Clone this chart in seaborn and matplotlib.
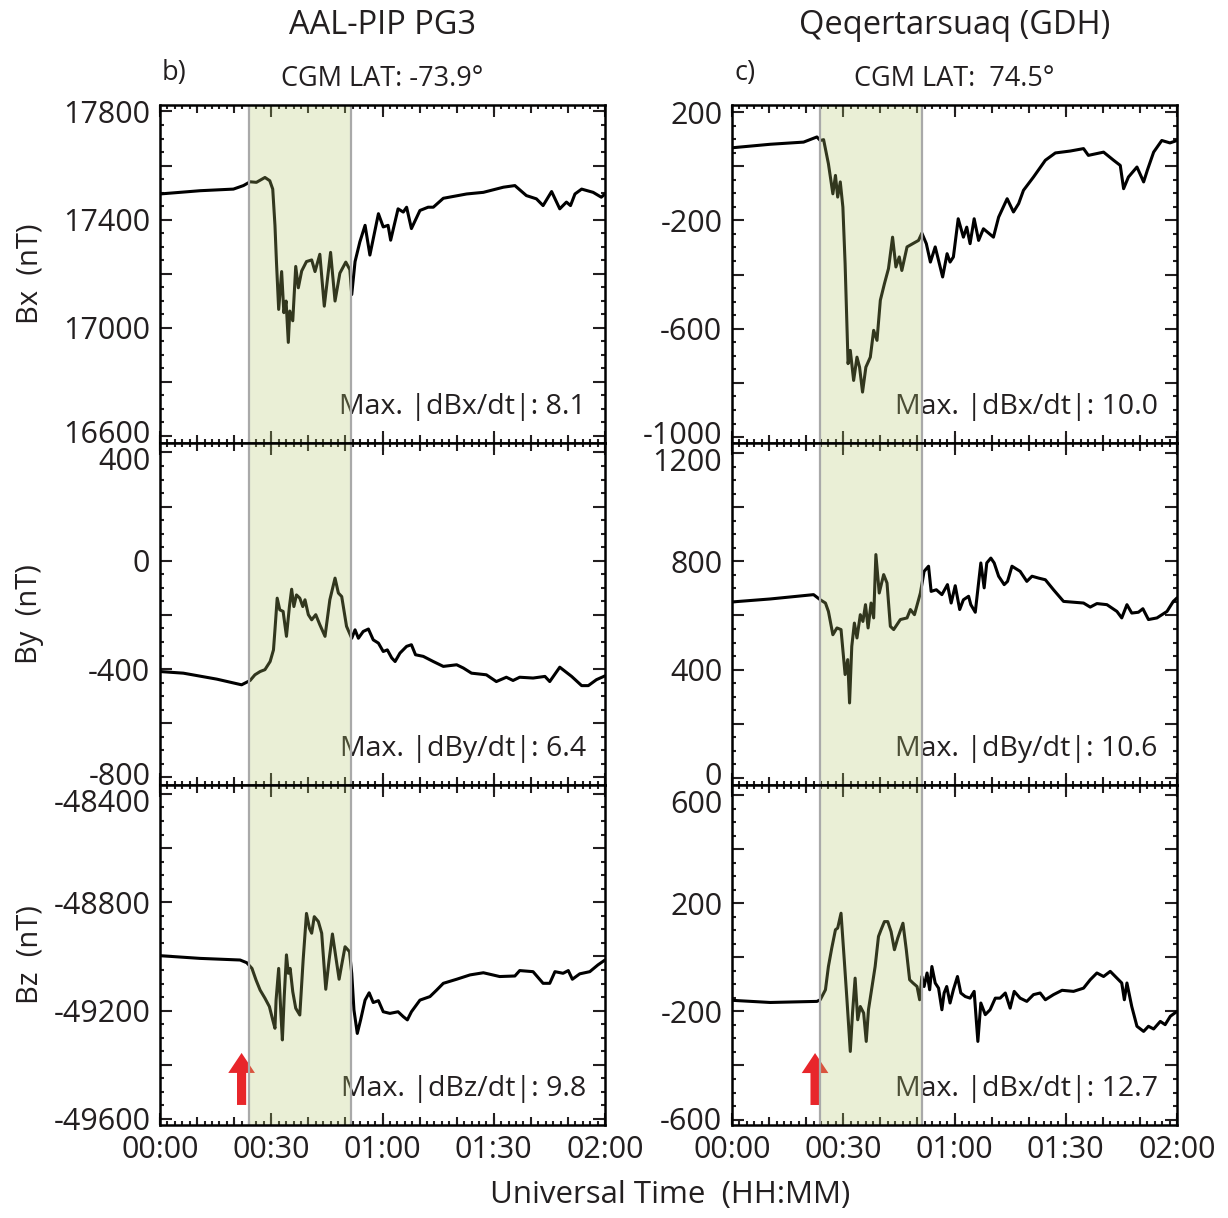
import numpy as np
import pandas as pd
import matplotlib
matplotlib.use("Agg")
import matplotlib.pyplot as plt
import matplotlib.transforms as mtransforms
import seaborn as sns
from matplotlib.ticker import MultipleLocator, NullLocator

# ---------------- data (minutes after 00:00 UT, nT) ----------------
t_bx_pg3 = [0, 10.8, 19.8, 22.5, 24.3, 26, 28.3, 29.6, 30.4, 31, 31.4, 32, 32.8, 33.4, 34, 34.6, 35, 35.8,
            36.6, 37.3, 38.2, 39.5, 40.9, 41.8, 43.1, 44.3, 46, 47.2, 48.5, 50.1, 51.2, 51.7, 52.6, 53.9,
            55.3, 56.6, 58.9, 60.2, 61.5, 62.2, 64.2, 65.6, 66.5, 67.8, 70.1, 72.3, 73.7, 76.4, 82.7, 87.2,
            92.6, 95.7, 98.8, 101.5, 103.3, 105.6, 107.8, 109.6, 110.7, 111.9, 113.7, 116.8, 119, 120]
bx_pg3 = [17495, 17507, 17513, 17526, 17540, 17538, 17556, 17544, 17513, 17379, 17245, 17068, 17208, 17056,
          17099, 16946, 17062, 17026, 17227, 17148, 17210, 17245, 17251, 17208, 17272, 17080, 17279, 17099,
          17202, 17243, 17215, 17123, 17245, 17318, 17379, 17269, 17422, 17373, 17379, 17324, 17440, 17428,
          17446, 17367, 17434, 17446, 17446, 17479, 17495, 17501, 17520, 17526, 17489, 17477, 17452, 17504,
          17440, 17465, 17452, 17495, 17513, 17501, 17483, 17495]

t_by_pg3 = [0, 6.3, 15.3, 22, 24.3, 25.6, 27, 28.3, 29.7, 30.6, 31, 31.6, 32.3, 33.2, 34.1, 34.9, 35.5, 36.1,
            36.8, 37.7, 38.5, 39.1, 40, 40.9, 42, 43.1, 44.5, 45.8, 47.2, 48.1, 49, 50.3, 51.7, 52.6, 53.5,
            54.8, 56.2, 57.5, 58.9, 60.2, 61.3, 62.5, 63.4, 64.7, 66.5, 67.8, 68.9, 71, 73.7, 76.4, 80, 81.8,
            84, 88, 90.7, 93.4, 95.2, 97, 100.6, 103.8, 105.1, 107.8, 111, 113.7, 115.5, 117.7, 120]
by_pg3 = [-409, -415, -437, -458, -442, -421, -409, -402, -372, -329, -255, -138, -181, -187, -279, -169,
          -105, -169, -126, -138, -169, -144, -199, -218, -199, -236, -279, -144, -64, -119, -132, -242,
          -286, -255, -286, -261, -252, -292, -304, -335, -329, -359, -372, -341, -316, -310, -347, -353,
          -372, -390, -384, -396, -415, -421, -446, -430, -442, -430, -433, -427, -446, -393, -427, -461,
          -461, -439, -425]

t_bz_pg3 = [0, 10.8, 21.6, 23.4, 24.8, 25.9, 27, 28.3, 29.5, 30.4, 31, 31.3, 32, 32.6, 33, 33.5, 34.1, 34.6,
            35.1, 35.8, 36.6, 37.7, 38.6, 39.5, 40.3, 40.9, 41.6, 42.7, 43.6, 44.7, 45.6, 46.5, 47.4, 48.3,
            48.9, 49.9, 51.1, 51.7, 52.3, 53.2, 54.1, 55.3, 56.4, 57.5, 58.9, 60.2, 62, 64.2, 65.6, 66.7,
            67.8, 70.1, 72.8, 74.6, 76.4, 80, 83.6, 87.2, 91.6, 95.7, 97, 100.6, 103.3, 105.1, 106.5, 108.7,
            110.1, 111.2, 113.2, 115.9, 118.1, 120]
bz_pg3 = [-48997, -49007, -49013, -49023, -49044, -49087, -49124, -49154, -49185, -49234, -49265, -49161,
          -49044, -49210, -49308, -49148, -48994, -49062, -49044, -49130, -49191, -49216, -49013, -48841,
          -48896, -48914, -48853, -48871, -48914, -49121, -49013, -48917, -49001, -49084, -49038, -48964,
          -48982, -49062, -49197, -49284, -49234, -49161, -49134, -49170, -49163, -49204, -49210, -49204,
          -49222, -49234, -49204, -49161, -49148, -49124, -49099, -49084, -49068, -49060, -49074, -49072,
          -49052, -49056, -49099, -49099, -49056, -49062, -49052, -49084, -49064, -49056, -49031, -49013]

t_bx_gdh = [0, 10.3, 19.3, 22.9, 23.8, 24.7, 26, 27.2, 27.9, 28.5, 29.2, 29.9, 30.5, 31.3, 31.9, 32.8, 33.7,
            34.4, 35.2, 36.1, 37.3, 38.2, 39.1, 40, 41.1, 42.2, 43.3, 44.2, 45.1, 45.8, 47.2, 49, 50.3, 51.2,
            52.4, 53.5, 54.8, 56.8, 58, 58.8, 59.7, 61, 62.4, 63.3, 64.2, 65.3, 66.5, 67.8, 70.5, 71.9, 74.2,
            75.9, 77.3, 78.6, 81.3, 84.5, 87.2, 91.2, 94.8, 96.1, 100.2, 102.9, 104.7, 105.6, 106.9, 109.2,
            111, 112, 113.7, 115.9, 118.1, 120]
bx_gdh = [68, 81, 89, 108, 95, 98, 9, -102, -34, -114, -58, -151, -360, -729, -680, -791, -705, -742, -834,
          -742, -705, -606, -643, -495, -434, -378, -262, -372, -335, -385, -298, -284, -274, -247, -286,
          -354, -298, -409, -323, -354, -335, -194, -262, -225, -286, -194, -274, -231, -262, -188, -120,
          -169, -138, -89, -40, 22, 49, 56, 65, 40, 52, 22, 3, -83, -40, -3, -58, -15, 52, 95, 86, 95]

t_by_gdh = [0, 10.3, 22, 23.8, 25.2, 26, 27.2, 28.3, 29.4, 30.5, 31.2, 31.7, 32.3, 33, 33.7, 34.6, 35.3, 36,
            36.7, 37.5, 38.2, 38.8, 39.7, 40.9, 41.8, 42.7, 43.6, 45.4, 47.2, 48.1, 49.2, 50.8, 51.8, 53,
            53.7, 55.1, 56.6, 58.1, 59.1, 60.2, 61.4, 62.4, 63.8, 64.4, 65.6, 67.1, 68, 68.7, 69.8, 70.7,
            71.9, 73.4, 74.3, 75.5, 77.7, 79.5, 80.9, 82.7, 84.5, 86.7, 89.4, 92.1, 94.8, 96.6, 98.4, 101.1,
            103.8, 105.1, 106.5, 107.8, 109.6, 110.8, 112.3, 114.6, 117.3, 119, 120]
by_gdh = [650, 661, 677, 658, 646, 615, 529, 554, 548, 382, 437, 277, 486, 572, 517, 603, 578, 640, 554, 646,
          591, 825, 683, 751, 720, 560, 548, 585, 591, 622, 603, 683, 763, 782, 689, 695, 677, 714, 646,
          710, 622, 658, 671, 640, 612, 794, 702, 794, 812, 794, 745, 714, 726, 782, 763, 726, 745, 738,
          732, 695, 652, 649, 646, 631, 644, 640, 615, 591, 640, 609, 612, 625, 585, 591, 615, 652, 665]

t_bz_gdh = [0, 10.3, 22.9, 23.8, 25.2, 26, 26.9, 27.9, 28.5, 29.4, 30.3, 31, 31.9, 32.5, 33.2, 33.9, 34.6,
            35.5, 36.2, 36.8, 37.7, 38.6, 39.5, 40.2, 41.1, 42, 42.9, 43.8, 44.7, 46.1, 47, 47.9, 48.8, 49.9,
            50.6, 51.2, 51.8, 52.6, 53.3, 53.9, 54.8, 55.7, 56.6, 57.2, 57.9, 58.8, 59.7, 60.8, 61.7, 62.9,
            64.2, 65.3, 66.3, 67.1, 68.3, 69.6, 71, 72.3, 73.7, 75, 76.1, 77.7, 79.5, 81.3, 83.1, 84.5, 86.7,
            89, 92.1, 94.8, 96.6, 98.4, 100.2, 102, 103.8, 105.1, 105.8, 106.5, 107.8, 109.2, 111, 112.3,
            113.7, 115.5, 116.8, 118.2, 120]
bz_gdh = [-159, -167, -163, -157, -120, -34, 34, 102, 108, 163, -15, -157, -348, -206, -77, -231, -182,
          -206, -311, -194, -114, -34, 77, 102, 132, 132, 95, 28, 71, 126, 28, -83, -95, -108, -157, -71,
          -108, -58, -120, -34, -95, -114, -194, -132, -108, -169, -120, -71, -132, -145, -151, -126, -311,
          -169, -212, -194, -151, -151, -132, -188, -126, -151, -163, -138, -132, -157, -138, -122, -126,
          -114, -83, -58, -71, -52, -77, -95, -157, -95, -182, -255, -274, -255, -265, -237, -249, -218,
          -200]

stations = ["AAL-PIP PG3", "Qeqertarsuaq (GDH)"]
panel_tags = ["b)", "c)"]
cgm_lat = ["CGM LAT: -73.9°", "CGM LAT:  74.5°"]
components = ["Bx  (nT)", "By  (nT)", "Bz  (nT)"]
max_labels = [["Max. |dBx/dt|: 8.1", "Max. |dBy/dt|: 6.4", "Max. |dBz/dt|: 9.8"],
              ["Max. |dBx/dt|: 10.0", "Max. |dBy/dt|: 10.6", "Max. |dBx/dt|: 12.7"]]
series = [[(t_bx_pg3, bx_pg3), (t_by_pg3, by_pg3), (t_bz_pg3, bz_pg3)],
          [(t_bx_gdh, bx_gdh), (t_by_gdh, by_gdh), (t_bz_gdh, bz_gdh)]]
# labelled y ticks (bottom to top) for each panel
ytick_labels = [[[16600, 17000, 17400, 17800], [-800, -400, 0, 400], [-49600, -49200, -48800, -48400]],
                [[-1000, -600, -200, 200], [0, 400, 800, 1200], [-600, -200, 200, 600]]]
ylims = [[(16574, 17824), (-828, 435), (-49622, -48367)],
         [(-1022, 226), (-26, 1237), (-620, 637)]]
shade = [(24.0, 51.4), (23.7, 51.2)]
onset = [(22.0, -49548, -49356), (22.4, -546, -354)]
xticks = [0, 30, 60, 90, 120]
xticklabels = ["00:00", "00:30", "01:00", "01:30", "02:00"]

# ---------------- style ----------------
sns.set_style("ticks")
plt.rcParams["font.family"] = ["Open Sans", "DejaVu Sans"]
txt = "#231f20"
plt.rcParams["text.color"] = txt
plt.rcParams["xtick.color"] = txt
plt.rcParams["ytick.color"] = txt

W, H = 1228, 1218
fig = plt.figure(figsize=(W / 100, H / 100), dpi=100)

col_x = [160, 732]
col_w = 445
rows_px = [(105, 443), (443, 785), (785, 1125)]
# label nudges (points): top label moved down for lower rows, bottom label moved up for upper rows
top_nudge = [0.0, -4.5, -4.5]
bot_nudge = [3.0, 3.0, 0.5]

for c in range(2):
    for r in range(3):
        y0, y1 = rows_px[r]
        ax = fig.add_axes([col_x[c] / W, 1 - y1 / H, col_w / W, (y1 - y0) / H])
        tt, vv = series[c][r]
        df = pd.DataFrame({"t": tt, "v": vv})
        sns.lineplot(data=df, x="t", y="v", ax=ax, color="black", lw=2.2,
                     estimator=None, sort=False, zorder=3)
        ax.set_xlim(0, 120)
        ax.set_ylim(*ylims[c][r])
        ax.set_xlabel("")
        ax.set_ylabel("")
        # shading (drawn on top, semi-transparent)
        ax.axvspan(shade[c][0], shade[c][1], color="#b6c86f", alpha=0.28, lw=0, zorder=6)
        for xs in shade[c]:
            ax.axvline(xs, color="#a9a9a9", lw=1.6, zorder=7)
        # x ticks
        ax.xaxis.set_minor_locator(MultipleLocator(2))
        ax.set_xticks(xticks)
        ax.set_xticklabels(xticklabels if r == 2 else [""] * len(xticks))
        # y ticks: long every 200, labels every 400, minor every 50
        labs = ytick_labels[c][r]
        majors = list(range(labs[0], labs[-1] + 1, 200))
        ax.set_yticks(majors)
        ax.set_yticklabels([str(v) if v in labs else "" for v in majors])
        ax.yaxis.set_minor_locator(MultipleLocator(50))
        ax.tick_params(which="both", direction="in", top=True, right=True, width=1.5)
        ax.tick_params(which="major", length=8.5, labelsize=22, pad=7)
        ax.tick_params(which="minor", length=3)
        for tk in ax.yaxis.get_major_ticks():
            v = tk.get_loc()
            if v == labs[-1]:
                dy = top_nudge[r] / 72
            elif v == labs[0]:
                dy = bot_nudge[r] / 72
            else:
                continue
            tk.label1.set_transform(tk.label1.get_transform() +
                                    mtransforms.ScaledTranslation(0, dy, fig.dpi_scale_trans))
        for s in ax.spines.values():
            s.set_linewidth(1.8)
            s.set_color("black")
            s.set_zorder(10)
        # medium 10-minute ticks
        for loc in ("bottom", "top"):
            sec = ax.secondary_xaxis(loc)
            sec.set_xticks(np.arange(0, 121, 10))
            sec.xaxis.set_minor_locator(NullLocator())
            sec.tick_params(direction="in", length=5.5, width=1.5,
                            labelbottom=False, labeltop=False)
            for s in sec.spines.values():
                s.set_visible(False)
        # annotation
        ax.text(0.957, 0.085, max_labels[c][r], transform=ax.transAxes, ha="right",
                va="baseline", fontsize=20.5, color=txt, zorder=4)
        if r == 2:
            xa, ytail, ytip = onset[c]
            ax.annotate("", xy=(xa, ytip), xytext=(xa, ytail),
                        arrowprops=dict(arrowstyle="simple,head_length=1.2,head_width=1.6,tail_width=0.55",
                                        color="#e8262b", lw=0, shrinkA=0, shrinkB=0,
                                        mutation_scale=12), zorder=5)
        if c == 0:
            fig.text(30 / W, 1 - ((y0 + y1) / 2) / H, components[r], rotation=90,
                     ha="center", va="center", fontsize=21)

# titles
for c in range(2):
    xc = (col_x[c] + col_w / 2) / W
    fig.text(xc, 1 - 25 / H, stations[c], ha="center", va="center", fontsize=23.5)
    fig.text(xc, 1 - 79 / H, cgm_lat[c], ha="center", va="center", fontsize=19.5)
    fig.text((col_x[c] + 2) / W, 1 - 73 / H, panel_tags[c], ha="left", va="center", fontsize=19.5)

fig.text(670 / W, 1 - 1195 / H, "Universal Time  (HH:MM)", ha="center", va="center", fontsize=22.5)

fig.savefig("out.png", dpi=100, facecolor="white")
